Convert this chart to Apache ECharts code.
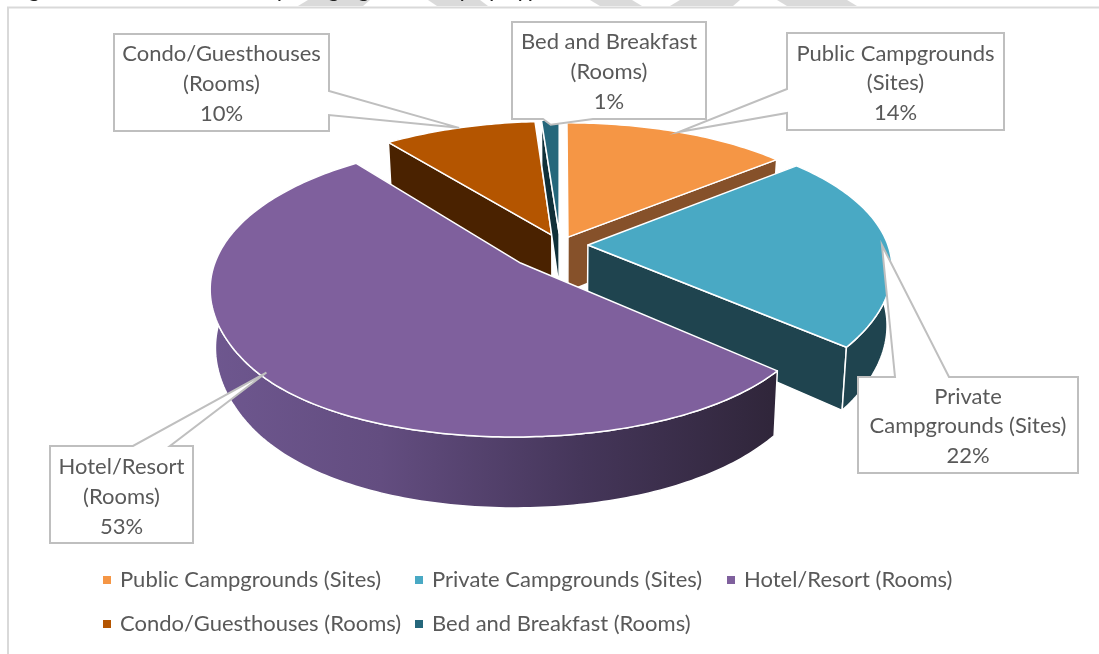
<!DOCTYPE html>
<html><head><meta charset="utf-8">
<style>html,body{margin:0;padding:0;background:#fff;overflow:hidden}#c{width:1099px;height:654px}</style>
<script src="https://cdn.jsdelivr.net/npm/echarts@6/dist/echarts.min.js"></script>
</head><body><div id="c"></div>
<script>
// ---- data ----
const categories = ['Public Campgrounds (Sites)','Private Campgrounds (Sites)','Hotel/Resort (Rooms)','Condo/Guesthouses (Rooms)','Bed and Breakfast (Rooms)'];
const shares = [14,22,53.4,9.5,1.1];
const labelLines = [['Public Campgrounds','(Sites)'],['Private','Campgrounds (Sites)'],['Hotel/Resort','(Rooms)'],['Condo/Guesthouses','(Rooms)'],['Bed and Breakfast','(Rooms)']];
// ---- styles and layout ----
const topColors = ['#F59645','#49A9C4','#7F609D','#B45500','#25677B'];
const wallColors = ['#86512A','#1F444F','#4a3a5c','#4A2200','#103039'];
const explode = [0.063,0.093,0.18,0.077,0.087];
const paintOrder = [0,3,4,1,2];
const cx=560, cy=245, A=300, B=140, KX=0.15, KY=0.2, FRONT=0.45, DEPTH=55, BOTTOM_X=0.985;
const font = 'Lato';
const boxes = [
 {box:[787,33,217,97],side:'left',base:[89,113],tipR:1,dT:0,ty:[54,83,113]},
 {box:[858,377,220,96],side:'top',base:[895,949],tipR:0.98,dT:0,ty:[397,426,456]},
 {box:[50,446,143,97],side:'top',base:[133,170],tipR:0.98,dT:3,ty:[467,497,527]},
 {box:[114,34,215,97],side:'right',base:[91,115],tipR:1,dT:0,ty:[54,84,114]},
 {box:[512,22,194,97],side:'bottom',base:[543,593],tipR:0.95,dT:0,ty:[42,72,102]}
];
const legendPos = [[103,569],[415,569],[727,569],[103,613],[415,613]];
// ---- geometry from values ----
const total = shares.reduce((a,b)=>a+b,0);
let acc=0;
const spans = shares.map(v=>{const s=acc/total*360; acc+=v; return [s,acc/total*360];});
const rad=d=>d*Math.PI/180;
function project(i,deg,r,low){
  const m=rad((spans[i][0]+spans[i][1])/2), t=rad(deg);
  const u=explode[i]*Math.sin(m)+r*Math.sin(t), v=explode[i]*Math.cos(m)+r*Math.cos(t);
  const sx=1/(1+KX*v), sy=1/(1+KY*v);
  let f=v*sy; if(v<-0.7) f+=FRONT*(v+0.7)*(v+0.7);
  let x=cx+u*sx*A, y=cy-f*B;
  if(low){x=cx+(x-cx)*BOTTOM_X; y+=DEPTH*sy;}
  return [x,y];
}
function rim(i,a,b,low){const o=[];const n=Math.max(2,Math.ceil((b-a)));for(let k=0;k<=n;k++)o.push(project(i,a+(b-a)*k/n,1,low));return o;}
const edge={stroke:'#fff',lineWidth:1.5,lineJoin:'round'};
function sliceItem(i){
  const [s,e]=spans[i]; const kids=[];
  const wall=(deg,sign)=>{ // radial wall, only if it faces the viewer
    const t=rad(deg); if(sign*(-Math.sin(t))>=-1e-6) return;
    kids.push({type:'polygon',shape:{points:[project(i,deg,0),project(i,deg,1),project(i,deg,1,true),project(i,deg,0,true)]},style:Object.assign({fill:wallColors[i]},edge)});
  };
  wall(s,-1); wall(e,1);
  const a=Math.max(s,80), b=Math.min(e,282);
  if(a<b){
    const fill = i===2 ? {type:'linear',global:true,x:210,y:0,x2:780,y2:0,colorStops:[{offset:0,color:'#6E578F'},{offset:0.3,color:'#634D80'},{offset:0.65,color:'#45365A'},{offset:1,color:'#2F2539'}]} : wallColors[i];
    kids.push({type:'polygon',shape:{points:rim(i,a,b,false).concat(rim(i,a,b,true).reverse())},style:Object.assign({fill},edge)});
  }
  kids.push({type:'polygon',shape:{points:[project(i,s,0)].concat(rim(i,s,e,false))},style:Object.assign({fill:topColors[i]},edge)});
  return {type:'group',children:kids};
}
function calloutItem(i){
  const L=boxes[i],[x,y,w,h]=L.box,mid=(spans[i][0]+spans[i][1])/2+L.dT;
  const tip=project(i,mid,L.tipR),[p,q]=L.base;
  let pts;
  if(L.side==='left') pts=[[x,y],[x+w,y],[x+w,y+h],[x,y+h],[x,q],tip,[x,p]];
  if(L.side==='right') pts=[[x,y],[x+w,y],[x+w,p],tip,[x+w,q],[x+w,y+h],[x,y+h]];
  if(L.side==='top') pts=[[x,y],[p,y],tip,[q,y],[x+w,y],[x+w,y+h],[x,y+h]];
  if(L.side==='bottom') pts=[[x,y],[x+w,y],[x+w,y+h],[q,y+h],tip,[p,y+h],[x,y+h]];
  const lines=labelLines[i].concat([Math.round(shares[i])+'%']);
  return {type:'group',children:[{type:'polygon',shape:{points:pts},style:{fill:'#fff',stroke:'#BFBFBF',lineWidth:2}}].concat(lines.map((t,k)=>({type:'text',z2:5,style:{text:t,x:x+w/2,y:L.ty[k],align:'center',verticalAlign:'middle',fill:'#595959',font:'22px '+font}})))};
}
const bands=[[[298,6],[308,0],[370,0],[363,6]],[[428,0],[480,0],[488,6],[437,6]],[[590,0],[632,0],[642,6],[600,6]],[[670,6],[680,0],[740,0],[733,6]],[[777,0],[847,0],[857,6],[787,6]]];
const series=paintOrder.map((i,k)=>({name:categories[i],type:'custom',coordinateSystem:'none',z:2+k,silent:true,animation:false,itemStyle:{color:topColors[i]},data:[[shares[i]]],renderItem:()=>sliceItem(i)}));
series.push({name:'labels',type:'custom',coordinateSystem:'none',z:20,silent:true,animation:false,data:shares.map(v=>[v]),renderItem:(p)=>calloutItem(p.dataIndex)});
const chart=echarts.init(document.getElementById('c'),null,{renderer:'canvas'});
chart.setOption({
  animation:false,backgroundColor:'#fff',
  legend:categories.map((c,i)=>({data:[c],left:legendPos[i][0],top:legendPos[i][1],icon:'rect',itemWidth:8,itemHeight:8,itemGap:0,selectedMode:false,padding:0,textStyle:{fontFamily:font,fontSize:22,color:'#595959',padding:[0,0,0,4]}})),
  graphic:{elements:bands.map(b=>({type:'polygon',z:0,silent:true,shape:{points:b},style:{fill:'#DADADA'}})).concat([
    {type:'text',z:1,silent:true,left:12,top:-23,style:{text:'Figure 4: Hotel and Country Lodging Inventory by Type',fill:'#222',font:'italic 24px '+font}},
    {type:'polyline',z:1,silent:true,shape:{points:[[8,654],[8,7.5],[1099,7.5]]},style:{stroke:'#D9D9D9',lineWidth:2,fill:null}}
  ])},
  series
});
</script></body></html>
